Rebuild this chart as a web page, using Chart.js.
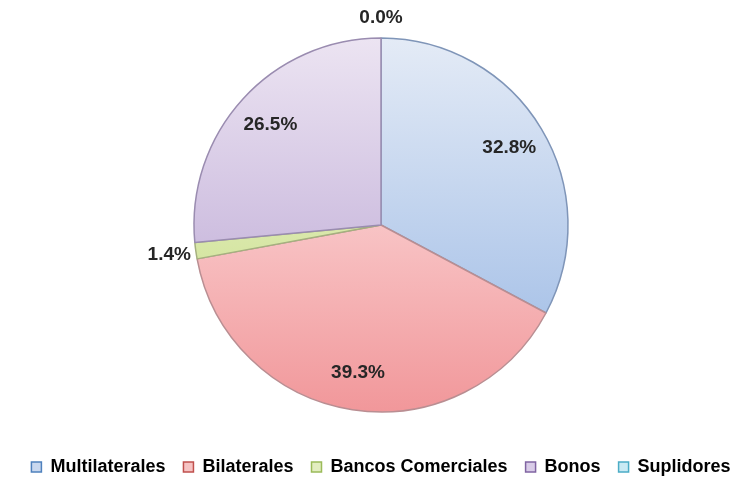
<!DOCTYPE html>
<html>
<head>
<meta charset="utf-8">
<script src="https://cdn.jsdelivr.net/npm/chart.js@4/dist/chart.umd.min.js"></script>
<style>
  html, body { margin: 0; padding: 0; background: #ffffff; }
  #wrap { width: 749px; height: 483px; position: relative; }
</style>
</head>
<body>
<div id="wrap"><canvas id="c" width="749" height="483"></canvas></div>
<script>
const categories = ['Multilaterales', 'Bilaterales', 'Bancos Comerciales', 'Bonos', 'Suplidores'];
const shares = [32.8, 39.3, 1.4, 26.5, 0.0];

const gradTop    = ['#e4ebf6', '#fff0f0', '#f2f8dc', '#ece4f2', '#e4f4fa'];
const gradBottom = ['#98b7e4', '#f1979a', '#c2d97c', '#b49ed0', '#9fd6e8'];
const edgeColors = ['#7f95b8', '#b98e92', '#a5b07f', '#9a8cb0', '#7fb3c4'];
const legendFill = ['#c9d8ef', '#f6c3c3', '#e2edc0', '#d9cce8', '#c9eaf4'];
const legendEdge = ['#4f81bd', '#c0504d', '#9bbb59', '#8064a2', '#4bacc6'];

const R = 187;

function sliceFill(ctx) {
  const chart = ctx.chart;
  const area = chart.chartArea;
  if (!area) return gradBottom[ctx.dataIndex];
  const cy = (area.top + area.bottom) / 2;
  const g = chart.ctx.createLinearGradient(0, cy - R, 0, cy + R);
  g.addColorStop(0, gradTop[ctx.dataIndex]);
  g.addColorStop(1, gradBottom[ctx.dataIndex]);
  return g;
}

const labelPlugin = {
  id: 'sliceLabels',
  afterDatasetsDraw(chart) {
    const ctx = chart.ctx;
    const meta = chart.getDatasetMeta(0);
    ctx.save();
    ctx.font = 'bold 19px "Liberation Sans", Arial, sans-serif';
    ctx.fillStyle = '#262626';
    ctx.textAlign = 'center';
    ctx.textBaseline = 'middle';
    meta.data.forEach((arc, i) => {
      const p = arc.getProps(['x', 'y', 'startAngle', 'endAngle', 'outerRadius'], true);
      const mid = (p.startAngle + p.endAngle) / 2;
      const cx = Math.cos(mid), sy = Math.sin(mid);
      const text = shares[i].toFixed(1) + '%';
      let d;
      if (shares[i] >= 5) {
        d = p.outerRadius * 0.8;
      } else {
        const w = ctx.measureText(text).width;
        d = p.outerRadius + 3 + Math.abs(cx) * w / 2 + Math.abs(sy) * 17;
      }
      ctx.fillText(text, p.x + cx * d, p.y + sy * d);
    });
    ctx.restore();
  }
};

Chart.defaults.font.family = '"Liberation Sans", Arial, sans-serif';

new Chart(document.getElementById('c'), {
  type: 'pie',
  data: {
    labels: categories,
    datasets: [{
      data: shares,
      backgroundColor: sliceFill,
      borderColor: edgeColors,
      borderWidth: 1.5,
      radius: R
    }]
  },
  options: {
    responsive: false,
    animation: false,
    layout: { padding: { left: 13, right: 0, top: 10, bottom: -3 } },
    plugins: {
      tooltip: { enabled: false },
      legend: {
        position: 'bottom',
        labels: {
          boxWidth: 10,
          boxHeight: 10,
          padding: 18,
          color: '#333333',
          font: { size: 18, weight: 'bold' },
          generateLabels(chart) {
            return categories.map((c, i) => ({
              text: c,
              fillStyle: legendFill[i],
              strokeStyle: legendEdge[i],
              lineWidth: 1.5,
              hidden: false,
              index: i,
              datasetIndex: 0
            }));
          }
        }
      }
    }
  },
  plugins: [labelPlugin]
});
</script>
</body>
</html>
